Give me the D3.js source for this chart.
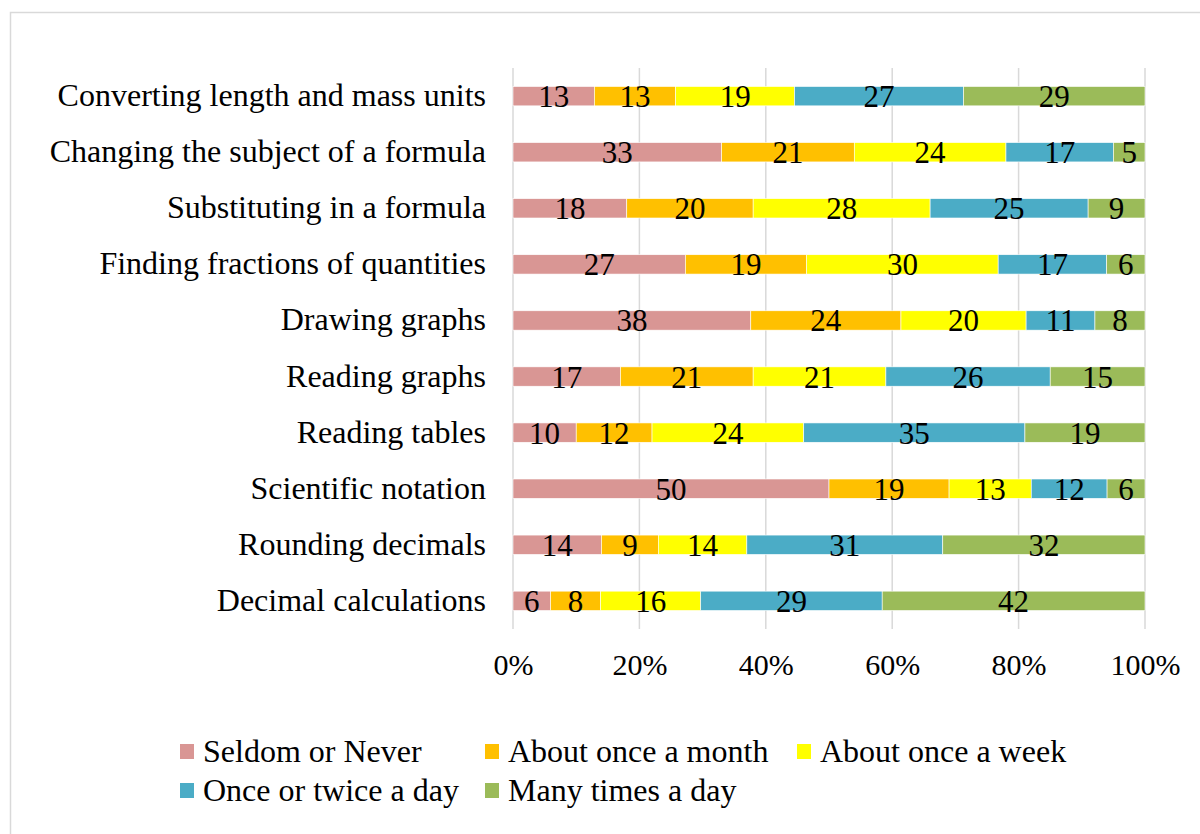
<!DOCTYPE html>
<html>
<head>
<meta charset="utf-8">
<script src="https://cdn.jsdelivr.net/npm/d3@7"></script>
<style>
  html, body { margin: 0; padding: 0; background: #fff; }
  svg { display: block; }
  svg text { font-family: "Liberation Serif", "Times New Roman", serif; }
</style>
</head>
<body>
<script>
// Survey topics, top to bottom
const categories = [
  "Converting length and mass units",
  "Changing the subject of a formula",
  "Substituting in a formula",
  "Finding fractions of quantities",
  "Drawing graphs",
  "Reading graphs",
  "Reading tables",
  "Scientific notation",
  "Rounding decimals",
  "Decimal calculations"
];

const seriesNames = [
  "Seldom or Never",
  "About once a month",
  "About once a week",
  "Once or twice a day",
  "Many times a day"
];

// Percentages per frequency, one entry per topic (same order as categories)
const seldomNever     = [13, 33, 18, 27, 38, 17, 10, 50, 14, 6];
const onceMonth       = [13, 21, 20, 19, 24, 21, 12, 19, 9, 8];
const onceWeek        = [19, 24, 28, 30, 20, 21, 24, 13, 14, 16];
const onceTwiceDay    = [27, 17, 25, 17, 11, 26, 35, 12, 31, 29];
const manyTimesDay    = [29, 5, 9, 6, 8, 15, 19, 6, 32, 42];

const tickLabels = ["0%", "20%", "40%", "60%", "80%", "100%"];

const colors = ["#D99694", "#FFC000", "#FFFF00", "#4BACC6", "#9BBB59"];

const seriesValues = [seldomNever, onceMonth, onceWeek, onceTwiceDay, manyTimesDay];

const W = 1200, H = 834;
const margin = { left: 513, right: 55, top: 68, bottom: 205 };

const svg = d3.select("body").append("svg")
  .attr("width", W).attr("height", H);

// chart frame
svg.append("path")
  .attr("d", `M10.5,${H} L10.5,12.5 L${W},12.5`)
  .attr("fill", "none").attr("stroke", "#d9d9d9").attr("stroke-width", 1.5);

const x = d3.scaleLinear().domain([0, 1]).range([margin.left, W - margin.right]);
const y = d3.scaleBand().domain(categories)
  .range([margin.top, H - margin.bottom]).paddingInner(0.655).paddingOuter(0.33);

// normalised stacking: each row is shown as share of its total
const rows = categories.map((c, i) => {
  const vals = seriesValues.map(s => s[i]);
  const total = d3.sum(vals);
  let acc = 0;
  return vals.map((v, k) => {
    const seg = { cat: c, key: k, value: v, x0: acc / total, x1: (acc + v) / total };
    acc += v;
    return seg;
  });
});

// vertical gridlines
const xAxis = d3.axisBottom(x).tickValues(d3.range(0, 1.0001, 0.2))
  .tickFormat((d, i) => tickLabels[i]).tickSize(0).tickPadding(0);

const gridTop = 68, gridBottom = 629;
svg.append("g").selectAll("line").data(x.ticks(5))
  .join("line")
  .attr("x1", d => x(d)).attr("x2", d => x(d))
  .attr("y1", gridTop).attr("y2", gridBottom)
  .attr("stroke", "#d9d9d9").attr("stroke-width", 1.5);

const gx = svg.append("g").attr("transform", `translate(0,${gridBottom})`).call(xAxis);
gx.attr("font-family", null).attr("font-size", null);
gx.select(".domain").remove();
gx.selectAll("text")
  .attr("dy", null).attr("y", 46)
  .attr("fill", "#000").attr("font-size", 30);

// bars
const rowG = svg.append("g").selectAll("g").data(rows).join("g");
rowG.selectAll("rect").data(d => d).join("rect")
  .attr("x", d => x(d.x0))
  .attr("y", d => y(d.cat))
  .attr("width", d => x(d.x1) - x(d.x0))
  .attr("height", y.bandwidth())
  .attr("fill", d => colors[d.key])
  .attr("stroke", "#ffffff").attr("stroke-width", 0.6);

// value labels
rowG.selectAll("text").data(d => d).join("text")
  .attr("x", d => (x(d.x0) + x(d.x1)) / 2)
  .attr("y", d => y(d.cat) + y.bandwidth() / 2 + 11)
  .attr("text-anchor", "middle")
  .attr("font-size", 31)
  .attr("fill", "#000")
  .text(d => d.value);

// category labels
svg.append("g").selectAll("text").data(categories).join("text")
  .attr("x", 486)
  .attr("y", d => y(d) + y.bandwidth() / 2 + 10)
  .attr("text-anchor", "end")
  .attr("font-size", 32)
  .attr("fill", "#000")
  .text(d => d);

// legend
const legendPos = [
  [180, 752], [485, 752], [797, 752],
  [180, 791], [485, 791]
];
const lg = svg.append("g").selectAll("g").data(seriesNames).join("g")
  .attr("transform", (d, i) => `translate(${legendPos[i][0]},${legendPos[i][1]})`);
lg.append("rect").attr("x", 0).attr("y", -8).attr("width", 14).attr("height", 15)
  .attr("fill", (d, i) => colors[i]);
lg.append("text").attr("x", 23).attr("y", 10)
  .attr("font-size", 32).attr("fill", "#000")
  .text(d => d);
</script>
</body>
</html>
